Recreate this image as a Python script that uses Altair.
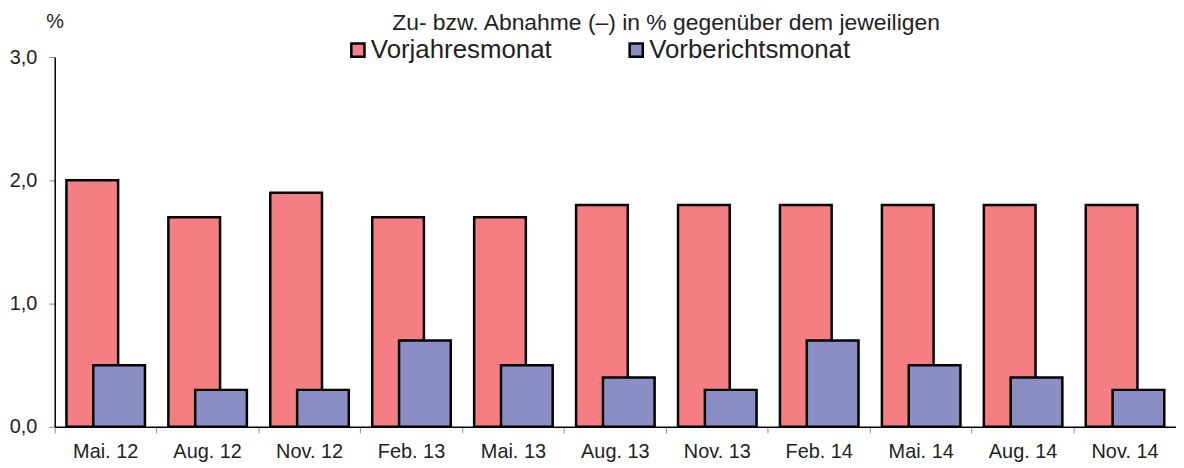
import altair as alt
import pandas as pd

monate = ["Mai. 12", "Aug. 12", "Nov. 12", "Feb. 13", "Mai. 13", "Aug. 13",
          "Nov. 13", "Feb. 14", "Mai. 14", "Aug. 14", "Nov. 14"]
vorjahresmonat = [2.0, 1.7, 1.9, 1.7, 1.7, 1.8, 1.8, 1.8, 1.8, 1.8, 1.8]
vorberichtsmonat = [0.5, 0.3, 0.3, 0.7, 0.5, 0.4, 0.3, 0.7, 0.5, 0.4, 0.3]
serien = ["Vorjahresmonat", "Vorberichtsmonat"]
farben = ["#F47E82", "#8B8EC4"]
titel = "Zu- bzw. Abnahme (–) in % gegenüber dem jeweiligen"

rows = []
for m, a, b in zip(monate, vorjahresmonat, vorberichtsmonat):
    rows.append({"Monat": m, "Serie": serien[0], "Wert": a})
    rows.append({"Monat": m, "Serie": serien[1], "Wert": b})
df = pd.DataFrame(rows)

FONT = "Liberation Sans"

x_enc = alt.X("Monat:N", sort=monate, title=None,
              scale=alt.Scale(paddingInner=0, paddingOuter=0),
              axis=alt.Axis(labelAngle=0, labelFontSize=20, labelFont=FONT,
                            labelColor="#222", bandPosition=0, tickColor="#888",
                            tickSize=6, labelPadding=9, domainColor="#000",
                            domainWidth=1.5, grid=False, labelLimit=0))
y_enc = alt.Y("Wert:Q", title="%",
              scale=alt.Scale(domain=[0, 3], nice=False),
              axis=alt.Axis(values=[0, 1, 2, 3],
                            labelExpr="replace(format(datum.value, '.1f'), '.', ',')",
                            labelFontSize=20, labelFont=FONT, labelColor="#222",
                            tickColor="#888", tickSize=6, labelPadding=12,
                            domainColor="#000", domainWidth=1.5, grid=False,
                            titleAngle=0, titleX=0, titleY=-36, titleAlign="center",
                            titleBaseline="middle", titleFontSize=20,
                            titleFont=FONT, titleFontWeight="normal",
                            titleColor="#222"))
color_enc = alt.Color("Serie:N", sort=serien,
                      scale=alt.Scale(domain=serien, range=farben),
                      legend=alt.Legend(title=None, orient="none", legendX=292,
                                        legendY=-20, direction="horizontal",
                                        columns=2, columnPadding=71,
                                        symbolType="square", symbolSize=175,
                                        symbolStrokeColor="#000",
                                        symbolStrokeWidth=2.5, symbolOpacity=1,
                                        labelFontSize=26, labelFont=FONT,
                                        labelColor="#222", labelOffset=0,
                                        labelLimit=0))

base = alt.Chart(df)
red = base.transform_filter(alt.datum.Serie == serien[0]).mark_bar(
    width=52, xOffset=-13.5, stroke="#000", strokeWidth=2.5, opacity=1
).encode(x=x_enc, y=y_enc, color=color_enc)
blue = base.transform_filter(alt.datum.Serie == serien[1]).mark_bar(
    width=52, xOffset=13.5, stroke="#000", strokeWidth=2.5, opacity=1
).encode(x=x_enc, y=y_enc, color=color_enc)

title_layer = alt.Chart(alt.Data(values=[{}])).mark_text(
    fontSize=23, font=FONT, color="#222", align="center", baseline="alphabetic"
).encode(x=alt.value(615), y=alt.value(-27), text=alt.value(titel))

chart = alt.layer(red, blue, title_layer).properties(
    width=1128, height=372,
    autosize=alt.AutoSizeParams(type="none"),
    padding={"left": 47, "top": 48, "right": 0, "bottom": 36},
).configure_view(stroke=None)

chart.save("out.html", embed_options={"renderer": "svg", "actions": False})
